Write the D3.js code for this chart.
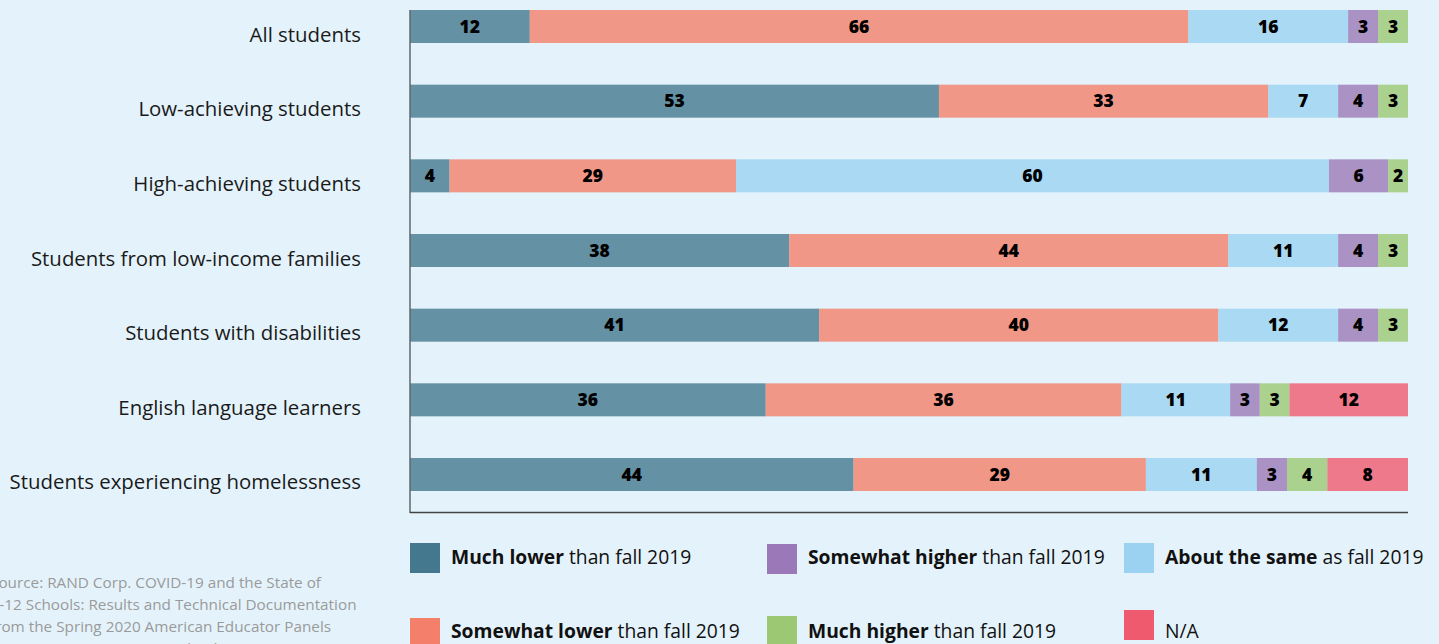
<!DOCTYPE html>
<meta charset="utf-8">
<html lang="en">
<head>
<script src="https://d3js.org/d3.v7.min.js"></script>
<style>
  html, body { margin: 0; padding: 0; background: #e4f3fb; overflow: hidden; }
  svg { display: block; }
</style>
</head>
<body>
<svg></svg>
<script>
// categories, top to bottom
const categories = [
  "All students",
  "Low-achieving students",
  "High-achieving students",
  "Students from low-income families",
  "Students with disabilities",
  "English language learners",
  "Students experiencing homelessness"
];
// series values (percent) per category
const muchLower      = [12, 53, 4, 38, 41, 36, 44];
const somewhatLower  = [66, 33, 29, 44, 40, 36, 29];
const aboutSame      = [16, 7, 60, 11, 12, 11, 11];
const somewhatHigher = [3, 4, 6, 4, 4, 3, 3];
const muchHigher     = [3, 3, 2, 3, 3, 3, 4];
const notApplicable  = [0, 0, 0, 0, 0, 12, 8];

const seriesKeys  = ["muchLower", "somewhatLower", "aboutSame", "somewhatHigher", "muchHigher", "na"];
const seriesBold  = ["Much lower", "Somewhat lower", "About the same", "Somewhat higher", "Much higher", ""];
const seriesRest  = [" than fall 2019", " than fall 2019", " as fall 2019", " than fall 2019", " than fall 2019", "N/A"];
const colors = ["#43788f", "#f47f6a", "#9bd2f1", "#9b79b8", "#9cc874", "#f05a6e"];

const sourceLines = [
  "Source: RAND Corp. COVID-19 and the State of",
  "K-12 Schools: Results and Technical Documentation",
  "from the Spring 2020 American Educator Panels",
  "COVID-19 Surveys. Accessed online"
];

let width = 1439, height = 644;
let svg = d3.select("svg").attr("width", width).attr("height", height);

let rows = categories.map((c, i) => ({
  cat: c,
  muchLower: muchLower[i], somewhatLower: somewhatLower[i], aboutSame: aboutSame[i],
  somewhatHigher: somewhatHigher[i], muchHigher: muchHigher[i], na: notApplicable[i]
}));

// each row fills the full width
let stacked = d3.stack().keys(seriesKeys).offset(d3.stackOffsetExpand)(rows);

let x = d3.scaleLinear().domain([0, 1]).range([410, 1408]);
let y = d3.scaleBand().domain(categories).range([10, 491]).paddingInner(0.558).paddingOuter(0);
let color = d3.scaleOrdinal().domain(seriesKeys).range(colors);

// bars
let groups = svg.append("g").selectAll("g")
  .data(stacked).enter().append("g")
  .attr("fill", d => color(d.key))
  .attr("fill-opacity", 0.8);

groups.selectAll("rect")
  .data(d => d.map(v => ({ key: d.key, v: v })))
  .enter().append("rect")
  .attr("x", d => x(d.v[0]))
  .attr("y", d => y(d.v.data.cat))
  .attr("width", d => x(d.v[1]) - x(d.v[0]))
  .attr("height", y.bandwidth());

// value labels
groups.selectAll("text")
  .data(d => d.map(v => ({ key: d.key, v: v })).filter(e => e.v.data[e.key] > 0))
  .enter().append("text")
  .attr("x", d => (x(d.v[0]) + x(d.v[1])) / 2)
  .attr("y", d => y(d.v.data.cat) + y.bandwidth() / 2)
  .attr("dy", "0.36em")
  .attr("text-anchor", "middle")
  .attr("fill", "#000")
  .attr("fill-opacity", 1)
  .style("font", "800 17.5px 'Open Sans', sans-serif")
  .text(d => d.v.data[d.key]);

// category labels
svg.append("g").selectAll("text")
  .data(categories).enter().append("text")
  .attr("x", 361)
  .attr("y", d => y(d) + y.bandwidth() / 2 + 15)
  .attr("text-anchor", "end")
  .attr("fill", "#1a1a1a")
  .style("font", "20.4px 'Open Sans', sans-serif")
  .text(d => d);

// axis lines
svg.append("line").attr("x1", 410).attr("x2", 410).attr("y1", 10).attr("y2", 513)
  .attr("stroke", "#5f676b").attr("stroke-width", 1.5);
svg.append("line").attr("x1", 410).attr("x2", 1408).attr("y1", 512.5).attr("y2", 512.5)
  .attr("stroke", "#444").attr("stroke-width", 1.5);

// legend
const legendPos = [
  [410, 543], [410, 618], [1124, 543], [767, 544], [767, 616], [1124, 610]
];
const legendTextY = [564, 638, 564, 564, 638, 638];
let legend = svg.append("g").selectAll("g")
  .data(seriesKeys).enter().append("g");
legend.append("rect")
  .attr("x", (d, i) => legendPos[i][0])
  .attr("y", (d, i) => legendPos[i][1])
  .attr("width", 30).attr("height", 30)
  .attr("fill", d => color(d));
let lt = legend.append("text")
  .attr("x", (d, i) => legendPos[i][0] + 41)
  .attr("y", (d, i) => legendTextY[i])
  .attr("fill", "#111")
  .style("font", "19.3px 'Open Sans', sans-serif");
lt.append("tspan").style("font-weight", "bold").text((d, i) => seriesBold[i]);
lt.append("tspan").text((d, i) => seriesRest[i]);

// source note
svg.append("g").selectAll("text")
  .data(sourceLines).enter().append("text")
  .attr("x", -10)
  .attr("y", (d, i) => 588 + i * 22)
  .attr("fill", "#9a9a9a")
  .style("font", "15.3px 'Open Sans', sans-serif")
  .text(d => d);
</script>
</body>
</html>
